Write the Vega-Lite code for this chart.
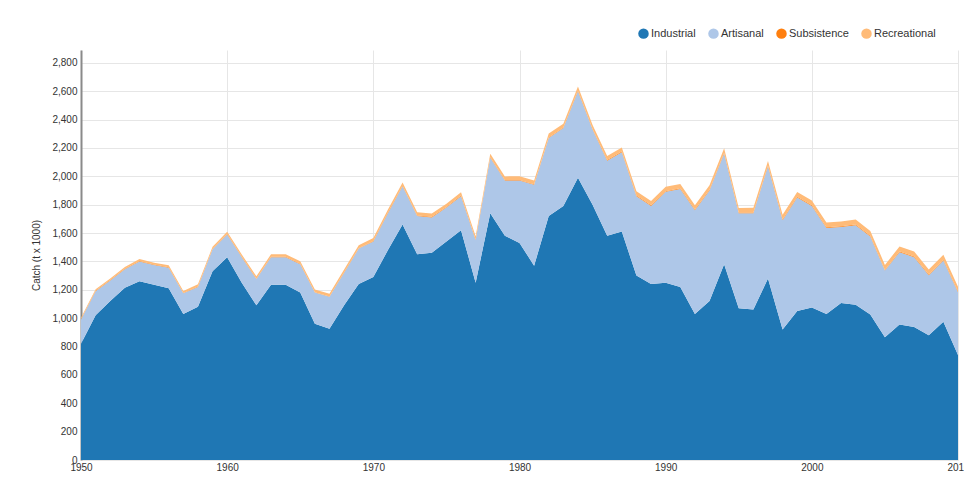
{
  "$schema": "https://vega.github.io/schema/vega-lite/v6.json",
  "width": 877,
  "height": 410,
  "autosize": {"type": "none"},
  "padding": {"left": 81, "top": 50, "right": 6, "bottom": 37},
  "background": "white",
  "config": {
    "view": {"stroke": null},
    "font": "Liberation Sans"
  },
  "data": {
    "values": [
      {"year": 1950, "Industrial": 820, "Artisanal": 170, "Subsistence": 3, "Recreational": 10},
      {"year": 1951, "Industrial": 1020, "Artisanal": 170, "Subsistence": 3, "Recreational": 11},
      {"year": 1952, "Industrial": 1120, "Artisanal": 145, "Subsistence": 3, "Recreational": 12},
      {"year": 1953, "Industrial": 1215, "Artisanal": 130, "Subsistence": 3, "Recreational": 12},
      {"year": 1954, "Industrial": 1260, "Artisanal": 140, "Subsistence": 3, "Recreational": 13},
      {"year": 1955, "Industrial": 1235, "Artisanal": 140, "Subsistence": 3, "Recreational": 13},
      {"year": 1956, "Industrial": 1210, "Artisanal": 145, "Subsistence": 3, "Recreational": 14},
      {"year": 1957, "Industrial": 1030, "Artisanal": 145, "Subsistence": 3, "Recreational": 14},
      {"year": 1958, "Industrial": 1080, "Artisanal": 140, "Subsistence": 3, "Recreational": 15},
      {"year": 1959, "Industrial": 1330, "Artisanal": 155, "Subsistence": 3, "Recreational": 15},
      {"year": 1960, "Industrial": 1430, "Artisanal": 160, "Subsistence": 3, "Recreational": 16},
      {"year": 1961, "Industrial": 1250, "Artisanal": 180, "Subsistence": 3, "Recreational": 16},
      {"year": 1962, "Industrial": 1090, "Artisanal": 185, "Subsistence": 3, "Recreational": 17},
      {"year": 1963, "Industrial": 1235, "Artisanal": 195, "Subsistence": 3, "Recreational": 17},
      {"year": 1964, "Industrial": 1235, "Artisanal": 195, "Subsistence": 3, "Recreational": 18},
      {"year": 1965, "Industrial": 1180, "Artisanal": 200, "Subsistence": 3, "Recreational": 18},
      {"year": 1966, "Industrial": 960, "Artisanal": 220, "Subsistence": 3, "Recreational": 19},
      {"year": 1967, "Industrial": 925, "Artisanal": 225, "Subsistence": 3, "Recreational": 19},
      {"year": 1968, "Industrial": 1090, "Artisanal": 230, "Subsistence": 3, "Recreational": 20},
      {"year": 1969, "Industrial": 1240, "Artisanal": 250, "Subsistence": 3, "Recreational": 20},
      {"year": 1970, "Industrial": 1290, "Artisanal": 250, "Subsistence": 4, "Recreational": 21},
      {"year": 1971, "Industrial": 1480, "Artisanal": 260, "Subsistence": 4, "Recreational": 21},
      {"year": 1972, "Industrial": 1660, "Artisanal": 270, "Subsistence": 4, "Recreational": 22},
      {"year": 1973, "Industrial": 1450, "Artisanal": 270, "Subsistence": 4, "Recreational": 22},
      {"year": 1974, "Industrial": 1460, "Artisanal": 250, "Subsistence": 4, "Recreational": 23},
      {"year": 1975, "Industrial": 1540, "Artisanal": 240, "Subsistence": 4, "Recreational": 23},
      {"year": 1976, "Industrial": 1620, "Artisanal": 240, "Subsistence": 4, "Recreational": 24},
      {"year": 1977, "Industrial": 1250, "Artisanal": 300, "Subsistence": 4, "Recreational": 24},
      {"year": 1978, "Industrial": 1740, "Artisanal": 390, "Subsistence": 4, "Recreational": 25},
      {"year": 1979, "Industrial": 1580, "Artisanal": 390, "Subsistence": 4, "Recreational": 25},
      {"year": 1980, "Industrial": 1530, "Artisanal": 440, "Subsistence": 4, "Recreational": 26},
      {"year": 1981, "Industrial": 1370, "Artisanal": 570, "Subsistence": 4, "Recreational": 26},
      {"year": 1982, "Industrial": 1720, "Artisanal": 550, "Subsistence": 4, "Recreational": 27},
      {"year": 1983, "Industrial": 1790, "Artisanal": 550, "Subsistence": 4, "Recreational": 27},
      {"year": 1984, "Industrial": 1990, "Artisanal": 610, "Subsistence": 4, "Recreational": 28},
      {"year": 1985, "Industrial": 1800, "Artisanal": 530, "Subsistence": 4, "Recreational": 28},
      {"year": 1986, "Industrial": 1580, "Artisanal": 530, "Subsistence": 4, "Recreational": 29},
      {"year": 1987, "Industrial": 1610, "Artisanal": 560, "Subsistence": 4, "Recreational": 29},
      {"year": 1988, "Industrial": 1300, "Artisanal": 560, "Subsistence": 5, "Recreational": 30},
      {"year": 1989, "Industrial": 1240, "Artisanal": 550, "Subsistence": 5, "Recreational": 30},
      {"year": 1990, "Industrial": 1250, "Artisanal": 640, "Subsistence": 5, "Recreational": 31},
      {"year": 1991, "Industrial": 1220, "Artisanal": 690, "Subsistence": 5, "Recreational": 31},
      {"year": 1992, "Industrial": 1030, "Artisanal": 730, "Subsistence": 5, "Recreational": 31},
      {"year": 1993, "Industrial": 1120, "Artisanal": 780, "Subsistence": 5, "Recreational": 32},
      {"year": 1994, "Industrial": 1380, "Artisanal": 780, "Subsistence": 5, "Recreational": 32},
      {"year": 1995, "Industrial": 1070, "Artisanal": 670, "Subsistence": 5, "Recreational": 32},
      {"year": 1996, "Industrial": 1060, "Artisanal": 680, "Subsistence": 5, "Recreational": 33},
      {"year": 1997, "Industrial": 1280, "Artisanal": 790, "Subsistence": 5, "Recreational": 33},
      {"year": 1998, "Industrial": 920, "Artisanal": 770, "Subsistence": 5, "Recreational": 33},
      {"year": 1999, "Industrial": 1050, "Artisanal": 800, "Subsistence": 5, "Recreational": 34},
      {"year": 2000, "Industrial": 1075, "Artisanal": 715, "Subsistence": 5, "Recreational": 34},
      {"year": 2001, "Industrial": 1030, "Artisanal": 605, "Subsistence": 5, "Recreational": 34},
      {"year": 2002, "Industrial": 1107, "Artisanal": 535, "Subsistence": 5, "Recreational": 35},
      {"year": 2003, "Industrial": 1095, "Artisanal": 560, "Subsistence": 5, "Recreational": 35},
      {"year": 2004, "Industrial": 1025, "Artisanal": 550, "Subsistence": 5, "Recreational": 35},
      {"year": 2005, "Industrial": 865, "Artisanal": 470, "Subsistence": 5, "Recreational": 35},
      {"year": 2006, "Industrial": 955, "Artisanal": 510, "Subsistence": 5, "Recreational": 35},
      {"year": 2007, "Industrial": 938, "Artisanal": 492, "Subsistence": 5, "Recreational": 35},
      {"year": 2008, "Industrial": 880, "Artisanal": 422, "Subsistence": 5, "Recreational": 35},
      {"year": 2009, "Industrial": 975, "Artisanal": 432, "Subsistence": 5, "Recreational": 35},
      {"year": 2010, "Industrial": 740, "Artisanal": 442, "Subsistence": 5, "Recreational": 35}
    ]
  },
  "transform": [
    {"fold": ["Industrial", "Artisanal", "Subsistence", "Recreational"], "as": ["sector", "catch"]},
    {"calculate": "indexof(['Industrial', 'Artisanal', 'Subsistence', 'Recreational'], datum.sector)", "as": "rank"}
  ],
  "mark": {"type": "area", "interpolate": "linear", "opacity": 1},
  "encoding": {
    "x": {
      "field": "year",
      "type": "quantitative",
      "scale": {"domain": [1950, 2010], "nice": false, "zero": false},
      "axis": {
        "title": null,
        "values": [1950, 1960, 1970, 1980, 1990, 2000, 2010],
        "format": "d",
        "domain": false,
        "ticks": false,
        "labelPadding": 2,
        "labelFontSize": 10,
        "labelColor": "#333333",
        "labelFlush": false,
        "gridColor": "#e6e6e6",
        "gridWidth": 1
      }
    },
    "y": {
      "field": "catch",
      "type": "quantitative",
      "stack": "zero",
      "scale": {"domain": [0, 2890], "nice": false},
      "axis": {
        "title": "Catch (t x 1000)",
        "titleFontSize": 10,
        "titleFontWeight": "normal",
        "titleColor": "#333333",
        "titlePadding": 10,
        "values": [0, 200, 400, 600, 800, 1000, 1200, 1400, 1600, 1800, 2000, 2200, 2400, 2600, 2800],
        "format": ",d",
        "ticks": false,
        "labelPadding": 4,
        "labelFontSize": 10,
        "labelColor": "#333333",
        "domainColor": "#8a8a8a",
        "domainWidth": 2,
        "gridColor": "#e6e6e6",
        "gridWidth": 1
      }
    },
    "order": {"field": "rank", "type": "quantitative", "sort": "ascending"},
    "color": {
      "field": "sector",
      "type": "nominal",
      "sort": ["Industrial", "Artisanal", "Subsistence", "Recreational"],
      "scale": {
        "domain": ["Industrial", "Artisanal", "Subsistence", "Recreational"],
        "range": ["#1f77b4", "#aec7e8", "#ff7f0e", "#ffbb78"]
      },
      "legend": {
        "title": null,
        "orient": "none",
        "legendX": 557,
        "legendY": -22,
        "direction": "horizontal",
        "symbolType": "circle",
        "symbolSize": 110,
        "symbolStrokeWidth": 0,
        "symbolOpacity": 1,
        "labelFontSize": 11,
        "labelColor": "#333333",
        "labelOffset": 2,
        "columnPadding": 12
      }
    }
  }
}
